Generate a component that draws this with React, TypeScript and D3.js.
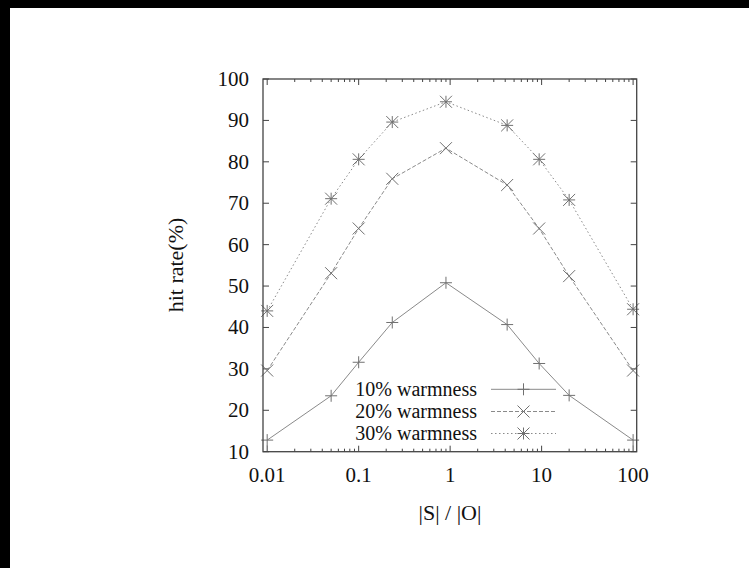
import React from 'react';
import * as d3 from 'd3';

// |S| / |O| ratios sampled
const ratios = [0.01, 0.05, 0.1, 0.233, 0.9, 4.2, 9.4, 20, 100];
const warm10 = [12.8, 23.5, 31.6, 41.2, 50.8, 40.7, 31.3, 23.6, 12.8];
const warm20 = [29.6, 53.1, 63.9, 75.9, 83.3, 74.4, 63.9, 52.4, 29.6];
const warm30 = [44.0, 71.1, 80.6, 89.6, 94.5, 88.8, 80.6, 70.8, 44.4];
const seriesNames = ['10% warmness', '20% warmness', '30% warmness'];
const yTicks = [10, 20, 30, 40, 50, 60, 70, 80, 90, 100];
const xTicks = [0.01, 0.1, 1, 10, 100];

const W = 749;
const H = 568;
const left = 263;
const right = 636.7;
const top = 79;
const bottom = 451.7;

const x = d3.scaleLog().domain([0.009, 109.5]).range([left, right]);
const y = d3.scaleLinear().domain([10, 100]).range([bottom, top]);

const lineGray = '#8a8a8a';
const axisCol = '#444';
const font = '"Liberation Serif", "DejaVu Serif", serif';

const series = [
  { name: seriesNames[0], values: warm10, dash: null, marker: 'plus' },
  { name: seriesNames[1], values: warm20, dash: '4,2', marker: 'cross' },
  { name: seriesNames[2], values: warm30, dash: '1.5,2.5', marker: 'star' },
];

function Marker({ cx, cy, kind }: { cx: number; cy: number; kind: string }) {
  const s = 6;
  const plus = `M${cx - s},${cy}H${cx + s}M${cx},${cy - s}V${cy + s}`;
  const cross = `M${cx - s},${cy - s}L${cx + s},${cy + s}M${cx - s},${cy + s}L${cx + s},${cy - s}`;
  let d = plus;
  if (kind === 'cross') d = cross;
  if (kind === 'star') d = plus + cross;
  return <path d={d} stroke="#707070" strokeWidth={1} fill="none" />;
}

export default function App() {
  const line = d3
    .line<number>()
    .x((_, i) => x(ratios[i]))
    .y((v) => y(v));

  // minor ticks for the log axis
  const minor: number[] = [];
  [0.01, 0.1, 1, 10, 100].forEach((dec) => {
    for (let k = 2; k <= 9; k++) {
      const v = dec * k;
      if (v < x.domain()[1]) minor.push(v);
    }
  });

  const legendTextX = 477;
  const legendLine = [491, 556];
  const legendRows = [389.3, 411.5, 433.5];

  return (
    <svg
      width={W}
      height={H}
      style={{ position: 'fixed', left: 0, top: 0, background: '#fff' }}
      fontFamily={font}
    >
      <rect x={0} y={0} width={W} height={H} fill="#fff" />
      <rect x={0} y={0} width={W} height={8} fill="#000" />
      <rect x={0} y={0} width={10} height={H} fill="#000" />

      {/* y ticks both sides */}
      {yTicks.map((t) => (
        <g key={'y' + t}>
          <line x1={left} x2={left + 6} y1={y(t)} y2={y(t)} stroke={axisCol} />
          <line x1={right} x2={right - 6} y1={y(t)} y2={y(t)} stroke={axisCol} />
          <text x={249} y={y(t)} dy="0.33em" textAnchor="end" fontSize={21} fill="#111" fontFamily={font}>
            {t}
          </text>
        </g>
      ))}

      {/* x ticks top and bottom */}
      {xTicks.map((t) => (
        <g key={'x' + t}>
          <line x1={x(t)} x2={x(t)} y1={bottom} y2={bottom - 6} stroke={axisCol} />
          <line x1={x(t)} x2={x(t)} y1={top} y2={top + 6} stroke={axisCol} />
          <text x={x(t)} y={482} textAnchor="middle" fontSize={21} fill="#111" fontFamily={font}>
            {t}
          </text>
        </g>
      ))}
      {minor.map((t) => (
        <g key={'m' + t}>
          <line x1={x(t)} x2={x(t)} y1={bottom} y2={bottom - 3} stroke={axisCol} />
          <line x1={x(t)} x2={x(t)} y1={top} y2={top + 3} stroke={axisCol} />
        </g>
      ))}

      {/* series */}
      {series.map((s) => (
        <g key={s.name}>
          <path
            d={line(s.values) || ''}
            fill="none"
            stroke={lineGray}
            strokeWidth={1}
            strokeDasharray={s.dash || undefined}
          />
          {s.values.map((v, i) => (
            <Marker key={i} cx={x(ratios[i])} cy={y(v)} kind={s.marker} />
          ))}
        </g>
      ))}

      {/* legend */}
      {series.map((s, i) => (
        <g key={'leg' + s.name}>
          <text
            x={legendTextX}
            y={legendRows[i]}
            dy="0.33em"
            textAnchor="end"
            fontSize={20}
            fill="#111"
            fontFamily={font}
          >
            {s.name}
          </text>
          <line
            x1={legendLine[0]}
            x2={legendLine[1]}
            y1={legendRows[i]}
            y2={legendRows[i]}
            stroke={lineGray}
            strokeDasharray={s.dash || undefined}
          />
          <Marker cx={(legendLine[0] + legendLine[1]) / 2} cy={legendRows[i]} kind={s.marker} />
        </g>
      ))}

      {/* frame */}
      <rect
        x={left}
        y={top}
        width={right - left}
        height={bottom - top}
        fill="none"
        stroke={axisCol}
        strokeWidth={1.3}
      />

      <text
        transform={`translate(183,265) rotate(-90)`}
        textAnchor="middle"
        fontSize={22}
        fill="#111"
        fontFamily={font}
      >
        hit rate(%)
      </text>
      <text x={450} y={520} textAnchor="middle" fontSize={22} fill="#111" fontFamily={font}>
        |S| / |O|
      </text>
    </svg>
  );
}
